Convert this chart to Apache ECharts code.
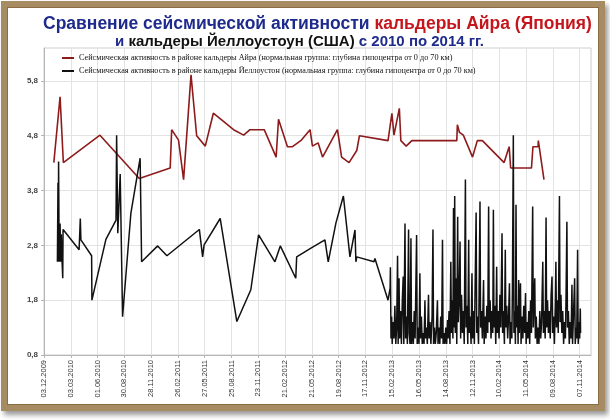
<!DOCTYPE html>
<html>
<head>
<meta charset="utf-8">
<script src="https://cdn.jsdelivr.net/npm/echarts@6/dist/echarts.min.js"></script>
<style>
  html,body{margin:0;padding:0;background:#ffffff;}
  #frame{position:absolute;left:1px;top:1px;width:592px;height:398px;border:6px solid #a78b62;
    box-shadow:3px 4px 5px rgba(0,0,0,0.4), inset 0 0 0 1px #8a6d45;background:#fff;}
  #c{position:absolute;left:0;top:0;width:610px;height:420px;}
</style>
</head>
<body>
<div id="frame"></div>
<div id="c"></div>
<script>
// x values are days since 03.12.2009
const baseDate = Date.UTC(2009, 11, 3);
const xTickStep = 90;
const yTickLabels = [0.8, 1.8, 2.8, 3.8, 4.8, 5.8];
const legendNames = [
  'Сейсмическая активность в районе кальдеры Айра (нормальная группа: глубина гипоцентра от 0 до 70 км)',
  'Сейсмическая активность в районе кальдеры Йеллоустон (нормальная группа: глубина гипоцентра от 0 до 70 км)'
];

const airaPoints = [
  [33,4.31],[54,5.51],[65,4.31],[188,4.81],[320,4.02],[424,4.21],[429,4.91],[452,4.72],[469,4.0],[494,5.91],
  [513,4.8],[542,4.61],[569,5.21],[637,4.91],[671,4.81],[692,4.91],[740,4.91],[780,4.41],[788,5.1],[818,4.6],
  [835,4.6],[865,4.72],[894,4.91],[902,4.61],[921,4.67],[936,4.41],[986,4.91],[1000,4.41],[1025,4.31],[1051,4.53],
  [1060,4.8],[1156,4.71],[1169,5.21],[1176,4.81],[1194,5.3],[1199,4.71],[1217,4.61],[1236,4.71],[1387,4.71],[1389,5.0],
  [1396,4.86],[1409,4.81],[1440,4.41],[1456,4.71],[1473,4.71],[1546,4.31],[1563,4.6],[1568,4.21],[1638,4.21],[1643,4.6],
  [1660,4.6],[1661,4.71],[1680,4.0]
];

const yellowstoneEarly = [
  [45,2.5],[47,3.94],[48,2.5],[49,4.33],[51,2.5],[54,3.2],[56,2.5],[58,3.0],[60,2.6],[63,2.2],[64,3.09],
  [118,2.72],[122,3.29],[124,2.9],[160,2.61],[161,1.8],[208,2.91],[242,3.26],[244,4.81],[248,3.02],[256,4.1],
  [264,1.5],[292,3.39],[323,4.39],[328,2.5],[382,2.79],[413,2.61],[522,3.09],[533,2.59],[538,2.81],[592,3.29],
  [648,1.41],[695,1.99],[721,2.99],[776,2.5],[794,2.79],[846,2.2],[849,2.59],[897,2.75],[944,2.9],[955,2.5],
  [981,3.21],[1006,3.7],[1028,2.59],[1045,3.08],[1048,2.5],[1051,2.59],[1109,2.5],[1112,2.56],[1156,1.8]
];

const yellowstoneDense = [
  [1163,2.02],[1164,2.4],[1166,1.1],[1168,1.5],[1170,1.0],[1173,1.4],[1176,1.1],[1179,1.7],[1182,1.0],[1185,1.3],
  [1188,2.61],[1190,1.0],[1193,2.2],[1195,1.1],[1198,1.6],[1201,1.0],[1204,1.8],[1207,2.23],[1209,1.0],[1213,3.2],
  [1215,1.1],[1218,1.5],[1221,1.0],[1225,3.09],[1227,1.2],[1230,1.0],[1233,2.93],[1235,1.0],[1238,1.4],[1241,1.0],
  [1244,1.6],[1247,1.1],[1252,2.99],[1254,1.0],[1257,1.3],[1260,1.0],[1263,2.29],[1265,1.1],[1268,1.5],[1271,1.0],
  [1274,1.2],[1277,1.0],[1280,1.8],[1282,1.1],[1285,1.3],[1288,1.0],[1292,1.9],[1294,1.1],[1297,1.4],[1300,1.0],
  [1304,1.5],[1307,3.09],[1309,1.0],[1312,1.3],[1315,1.0],[1318,1.2],[1322,1.8],[1324,1.0],[1327,1.3],[1330,1.0],
  [1333,1.5],[1336,1.1],[1339,2.9],[1341,1.0],[1344,1.2],[1347,1.0],[1350,1.3],[1353,1.0],[1356,1.44],[1358,1.1],
  [1361,1.6],[1364,1.0],[1367,2.5],[1369,1.2],[1372,1.8],[1374,1.1],[1376,3.48],[1378,1.3],[1380,3.7],[1382,1.2],
  [1385,2.2],[1387,1.0],[1390,3.32],[1392,1.4],[1395,1.8],[1398,2.87],[1400,1.1],[1403,1.9],[1406,1.2],[1409,1.6],
  [1412,1.0],[1416,4.0],[1418,1.3],[1421,1.7],[1424,1.0],[1427,2.9],[1429,1.2],[1432,1.5],[1435,1.0],[1438,2.29],
  [1440,1.1],[1443,1.6],[1446,1.0],[1448,1.8],[1452,3.4],[1454,1.2],[1457,1.5],[1460,1.0],[1462,1.9],[1465,3.6],
  [1467,1.3],[1470,1.6],[1473,1.1],[1477,2.17],[1479,1.0],[1482,1.5],[1485,1.1],[1488,1.7],[1491,1.2],[1494,3.51],
  [1496,1.4],[1499,1.8],[1502,1.1],[1505,1.6],[1508,1.2],[1510,3.45],[1512,1.3],[1515,1.7],[1518,1.0],[1521,2.41],
  [1523,1.2],[1526,1.6],[1529,1.1],[1532,1.9],[1535,1.3],[1539,3.02],[1541,1.2],[1544,1.6],[1547,1.0],[1550,2.72],
  [1552,1.3],[1555,1.7],[1558,1.1],[1561,1.5],[1564,2.11],[1566,1.0],[1569,1.4],[1572,1.1],[1574,2.0],[1577,4.81],
  [1579,1.2],[1582,1.6],[1584,1.0],[1586,3.54],[1588,1.3],[1591,1.7],[1593,1.0],[1595,2.17],[1597,1.2],[1601,2.11],
  [1603,1.0],[1606,1.5],[1609,1.1],[1612,1.7],[1615,1.2],[1618,1.93],[1620,1.0],[1623,1.4],[1626,1.1],[1629,1.6],
  [1632,1.0],[1635,1.8],[1638,1.2],[1642,3.51],[1644,1.3],[1646,1.7],[1649,2.2],[1651,1.1],[1654,1.5],[1657,1.0],
  [1660,1.3],[1663,1.0],[1666,1.6],[1669,1.1],[1672,1.4],[1676,2.5],[1678,1.2],[1681,1.6],[1684,1.1],[1687,3.31],
  [1689,1.3],[1692,1.8],[1695,1.2],[1698,1.6],[1701,1.1],[1704,1.9],[1707,2.23],[1709,1.2],[1712,1.5],[1715,1.0],
  [1718,1.7],[1720,2.5],[1722,1.3],[1725,1.8],[1728,1.2],[1732,3.7],[1734,1.4],[1737,1.9],[1740,1.2],[1743,1.6],
  [1746,1.0],[1749,1.4],[1752,1.1],[1754,1.8],[1757,3.23],[1759,1.3],[1762,1.6],[1765,1.0],[1768,1.4],[1771,1.1],
  [1774,2.08],[1776,1.0],[1779,1.5],[1783,2.2],[1785,1.0],[1788,1.3],[1790,1.1],[1793,2.72],[1795,1.0],[1798,1.4],
  [1800,1.1],[1802,1.65],[1803,1.2]
];

function fmtDate(v) {
  const d = new Date(baseDate + Math.round(v) * 86400000);
  const dd = String(d.getUTCDate()).padStart(2, '0');
  const mm = String(d.getUTCMonth() + 1).padStart(2, '0');
  return dd + '.' + mm + '.' + d.getUTCFullYear();
}

const chart = echarts.init(document.getElementById('c'), null, {renderer: 'canvas'});
const sans = 'Liberation Sans';
chart.setOption({
  animation: false,
  title: [
    {
      left: 38, top: 10,
      text: '{b|Сравнение сейсмической активности }{r|кальдеры Айра (Япония)}',
      textStyle: {fontSize: 17.5, fontWeight: 'bold', fontFamily: sans,
        rich: {
          b: {color: '#1f2b8c', fontSize: 17.5, fontWeight: 'bold', fontFamily: sans},
          r: {color: '#c4161c', fontSize: 17.5, fontWeight: 'bold', fontFamily: sans}
        }}
    },
    {
      left: 110, top: 29,
      text: '{b|и }{k|кальдеры Йеллоустоун (США)}{b| с 2010 по 2014 гг.}',
      textStyle: {fontSize: 15, fontWeight: 'bold', fontFamily: sans,
        rich: {
          b: {color: '#1f2b8c', fontSize: 15, fontWeight: 'bold', fontFamily: sans},
          k: {color: '#111111', fontSize: 15, fontWeight: 'bold', fontFamily: sans}
        }}
    }
  ],
  legend: {
    left: 57, top: 49, orient: 'vertical', itemGap: 5,
    icon: 'rect', itemWidth: 12, itemHeight: 2,
    textStyle: {fontFamily: 'Liberation Serif', fontSize: 8.2, color: '#111'},
    data: legendNames
  },
  grid: {left: 44, right: 19, top: 48, bottom: 65, show: true, borderColor: '#cfcfcf', borderWidth: 1},
  xAxis: {
    type: 'value', min: 0, max: 1838, interval: xTickStep,
    axisLine: {show: true, lineStyle: {color: '#b5b5b5'}},
    axisTick: {show: true, length: 3, lineStyle: {color: '#b5b5b5'}},
    splitLine: {show: true, lineStyle: {color: '#e3e3e3'}},
    axisLabel: {
      rotate: 90, fontSize: 7.5, color: '#333', fontFamily: sans, margin: 5,
      showMaxLabel: false,
      formatter: v => (v % xTickStep === 0 ? fmtDate(v) : '')
    }
  },
  yAxis: {
    type: 'value', min: 0.8, max: 6.4,
    axisLine: {show: true, lineStyle: {color: '#b5b5b5'}},
    axisTick: {show: true, length: 3, lineStyle: {color: '#b5b5b5'}, customValues: yTickLabels},
    splitLine: {show: true, lineStyle: {color: '#e3e3e3'}},
    axisLabel: {
      customValues: yTickLabels,
      fontSize: 8, color: '#444', fontFamily: sans, fontWeight: 'bold', margin: 6,
      formatter: v => v.toFixed(1).replace('.', ',')
    }
  },
  series: [
    {
      name: legendNames[0], type: 'line', showSymbol: false, symbol: 'none',
      data: airaPoints, color: '#8e1b1b',
      lineStyle: {width: 1.6, color: '#8e1b1b'}
    },
    {
      name: legendNames[1], type: 'line', showSymbol: false, symbol: 'none',
      data: yellowstoneEarly.concat(yellowstoneDense), color: '#111',
      lineStyle: {width: 1.5, color: '#111'}
    }
  ]
});
</script>
</body>
</html>
